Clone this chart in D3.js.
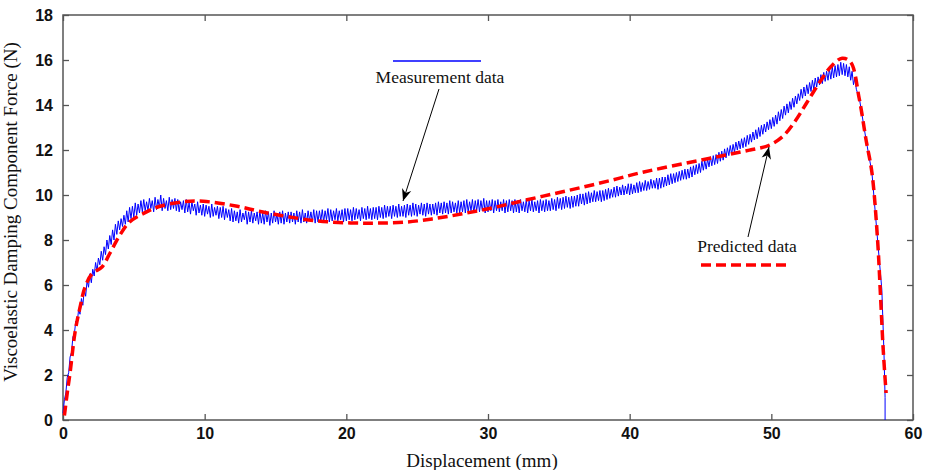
<!DOCTYPE html>
<html>
<head>
<meta charset="utf-8">
<script src="https://cdn.jsdelivr.net/npm/d3@7"></script>
<style>
  body { margin: 0; background: #fff; }
  .axis text { font-family: "Liberation Sans", Arial, sans-serif; font-weight: bold; font-size: 16px; fill: #111; }
  .axis line { stroke: #555; stroke-width: 1.3; }
  .axis path { display: none; }
  .label { font-family: "Liberation Serif", "Times New Roman", serif; fill: #111; }
</style>
</head>
<body>
<svg id="chart" width="930" height="470"></svg>
<script>
// x ticks / y ticks
var xTicks = [0, 10, 20, 30, 40, 50, 60];
var yTicks = [0, 2, 4, 6, 8, 10, 12, 14, 16, 18];

// predicted data [displacement mm, force N]
var predicted = [
  [0.1,0.2],[0.3,1.2],[0.5,2.1],[0.85,3.9],[1.2,5.0],[1.55,5.9],[2.05,6.5],[2.75,6.8],
  [3.3,7.4],[4.0,8.2],[4.7,8.8],[5.9,9.25],[6.85,9.5],[8.5,9.7],[9.9,9.72],[12.3,9.5],
  [13.7,9.3],[15.3,9.1],[17.9,8.85],[20.3,8.76],[22.2,8.75],[24.3,8.8],[26.4,8.97],
  [28.5,9.2],[30.6,9.47],[32.5,9.75],[34.6,10.05],[36.7,10.35],[38.8,10.67],[40.5,10.95],
  [42.3,11.2],[45.0,11.55],[47.0,11.8],[48.5,12.0],[49.8,12.2],[50.8,12.6],[51.7,13.3],
  [52.5,14.1],[53.4,15.0],[54.2,15.7],[55.0,16.08],[55.6,15.9],[56.2,14.3],[56.7,12.4],
  [57.1,11.0],[57.5,8.0],[57.7,5.6],[57.9,3.1],[58.1,1.2]
];

// measurement data, sampled every measStep mm from 0 (one row = 2 mm)
var measStep = 0.1;
var measForce = [
  0.3,0.9,1.2,1.9,2.1,2.8,3.0,3.7,3.8,4.4,4.3,4.9,4.7,5.4,5.1,5.8,5.5,6.2,5.9,6.5,
  6.1,6.7,6.4,7.0,6.6,7.2,6.9,7.5,7.1,7.7,7.35,8.0,7.6,8.2,7.8,8.45,8.0,8.7,8.25,8.85,
  8.45,8.95,8.6,9.1,8.7,9.3,8.8,9.45,8.95,9.5,9.0,9.65,9.1,9.6,9.2,9.75,9.25,9.8,9.3,9.7,
  9.3,9.85,9.4,9.75,9.25,9.9,9.35,9.8,9.45,10.0,9.3,9.85,9.4,9.75,9.3,9.9,9.35,9.8,9.4,9.85,
  9.3,9.8,9.25,9.7,9.35,9.75,9.2,9.8,9.25,9.65,9.15,9.7,9.3,9.6,9.1,9.7,9.2,9.55,9.1,9.6,
  9.05,9.55,9.15,9.5,9.0,9.6,9.05,9.45,9.1,9.5,8.95,9.45,9.0,9.5,8.9,9.4,9.0,9.35,8.85,9.4,
  8.8,9.3,8.85,9.25,8.75,9.35,8.8,9.2,8.9,9.3,8.7,9.25,8.8,9.3,8.75,9.2,8.85,9.25,8.7,9.3,
  8.75,9.2,8.7,9.3,8.8,9.25,8.65,9.2,8.75,9.3,8.8,9.15,8.7,9.25,8.75,9.3,8.7,9.2,8.8,9.25,
  8.75,9.25,8.8,9.2,8.7,9.3,8.8,9.25,8.75,9.35,8.8,9.2,8.75,9.3,8.85,9.25,8.8,9.35,8.75,9.3,
  8.8,9.3,8.85,9.35,8.8,9.3,8.9,9.4,8.8,9.35,8.85,9.3,8.9,9.4,8.85,9.3,8.9,9.35,8.8,9.4,
  8.85,9.4,8.9,9.35,8.85,9.45,8.9,9.4,8.95,9.35,8.85,9.45,8.95,9.4,8.9,9.5,8.95,9.4,8.9,9.45,
  8.95,9.45,8.9,9.5,9.0,9.45,8.95,9.55,9.0,9.5,9.05,9.5,8.95,9.55,9.05,9.5,9.0,9.6,9.05,9.5,
  9.05,9.55,9.0,9.6,9.1,9.55,9.05,9.65,9.1,9.6,9.05,9.55,9.15,9.65,9.1,9.6,9.05,9.65,9.15,9.6,
  9.1,9.6,9.15,9.65,9.1,9.7,9.2,9.65,9.15,9.7,9.2,9.65,9.15,9.75,9.2,9.7,9.25,9.65,9.2,9.75,
  9.2,9.7,9.25,9.75,9.2,9.8,9.25,9.7,9.3,9.8,9.2,9.75,9.3,9.8,9.25,9.75,9.3,9.85,9.2,9.75,
  9.25,9.75,9.3,9.8,9.2,9.75,9.3,9.8,9.25,9.7,9.3,9.8,9.2,9.75,9.25,9.8,9.3,9.75,9.2,9.8,
  9.25,9.75,9.2,9.8,9.3,9.7,9.25,9.8,9.2,9.75,9.3,9.8,9.25,9.7,9.3,9.75,9.2,9.8,9.3,9.75,
  9.25,9.8,9.3,9.75,9.3,9.85,9.35,9.8,9.3,9.9,9.4,9.85,9.35,9.9,9.4,9.95,9.45,9.9,9.4,9.95,
  9.45,9.95,9.5,10.0,9.5,10.05,9.6,10.05,9.55,10.1,9.6,10.15,9.65,10.1,9.7,10.2,9.7,10.15,9.75,10.2,
  9.7,10.2,9.75,10.25,9.8,10.3,9.85,10.25,9.9,10.35,9.9,10.4,9.95,10.35,10.0,10.45,10.0,10.4,10.05,10.5,
  10.0,10.5,10.05,10.45,10.1,10.55,10.1,10.6,10.15,10.55,10.2,10.65,10.2,10.6,10.25,10.7,10.3,10.65,10.3,10.75,
  10.25,10.75,10.3,10.8,10.35,10.8,10.4,10.9,10.45,10.95,10.5,10.95,10.55,11.0,10.6,11.05,10.65,11.1,10.7,11.15,
  10.7,11.15,10.75,11.25,10.8,11.3,10.9,11.35,10.95,11.4,11.0,11.5,11.1,11.55,11.15,11.6,11.25,11.7,11.3,11.75,
  11.35,11.8,11.4,11.9,11.5,11.95,11.55,12.05,11.65,12.1,11.75,12.2,11.8,12.25,11.9,12.35,12.0,12.4,12.05,12.5,
  12.1,12.55,12.15,12.65,12.25,12.7,12.35,12.8,12.45,12.9,12.5,13.0,12.6,13.1,12.7,13.15,12.8,13.25,12.9,13.35,
  12.95,13.45,13.05,13.55,13.15,13.7,13.3,13.8,13.4,13.95,13.55,14.05,13.65,14.15,13.8,14.3,13.9,14.4,14.05,14.5,
  14.2,14.7,14.3,14.8,14.4,14.9,14.5,15.0,14.6,15.1,14.7,15.2,14.8,15.25,14.9,15.35,14.95,15.45,15.05,15.5,
  15.1,15.6,15.15,15.7,15.2,15.75,15.25,15.8,15.3,15.9,15.35,15.85,15.3,15.8,15.25,15.7,15.1,15.5,14.9,15.2,
  14.7,14.5
];
// falling edge after the peak
var measTail = [[56.2,14.35],[56.7,12.4],[57.1,11.0],[57.5,8.0],[57.8,5.8],[57.95,3.0],[58.03,1.0],[58.03,0]];

var measurement = measForce.map(function(v, i){ return [i * measStep, v]; }).concat(measTail);

var width = 930, height = 470;
var margin = {left: 63, right: 17, top: 15, bottom: 50};

var svg = d3.select('#chart');
var x = d3.scaleLinear().domain([0, 60]).range([margin.left, width - margin.right]);
var y = d3.scaleLinear().domain([0, 18]).range([height - margin.bottom, margin.top]);

// axes on all four sides, ticks pointing in
svg.append('g').attr('class','axis')
  .attr('transform','translate(0,'+y(0)+')')
  .call(d3.axisBottom(x).tickValues(xTicks).tickSizeInner(-6).tickSizeOuter(0).tickPadding(8));
svg.append('g').attr('class','axis')
  .attr('transform','translate('+x(0)+',0)')
  .call(d3.axisLeft(y).tickValues(yTicks).tickSizeInner(-6).tickSizeOuter(0).tickPadding(10));
svg.append('g').attr('class','axis')
  .attr('transform','translate(0,'+y(18)+')')
  .call(d3.axisTop(x).tickValues(xTicks).tickSizeInner(-6).tickSizeOuter(0).tickFormat(''));
svg.append('g').attr('class','axis')
  .attr('transform','translate('+x(60)+',0)')
  .call(d3.axisRight(y).tickValues(yTicks).tickSizeInner(-6).tickSizeOuter(0).tickFormat(''));

svg.append('rect')
  .attr('x', x(0)).attr('y', y(18))
  .attr('width', x(60) - x(0)).attr('height', y(0) - y(18))
  .attr('fill','none').attr('stroke','#555').attr('stroke-width',1.5);

var line = d3.line()
  .x(function(d){ return x(d[0]); })
  .y(function(d){ return y(d[1]); });

svg.append('path')
  .datum(measurement)
  .attr('d', line)
  .attr('fill','none')
  .attr('stroke','#0000ff')
  .attr('stroke-width',1);

svg.append('path')
  .datum(predicted)
  .attr('d', line.curve(d3.curveCatmullRom))
  .attr('fill','none')
  .attr('stroke','#ff0000')
  .attr('stroke-width',3.5)
  .attr('stroke-dasharray','10,5');

// axis labels
svg.append('text').attr('class','label')
  .attr('x', 482).attr('y', 467)
  .attr('text-anchor','middle')
  .style('font-size','19px')
  .text('Displacement (mm)');
svg.append('text').attr('class','label')
  .attr('transform','translate(17,212) rotate(-90)')
  .attr('text-anchor','middle')
  .style('font-size','19px')
  .text('Viscoelastic Damping Component Force (N)');

// annotations
var defs = svg.append('defs');
defs.append('marker')
  .attr('id','arrow')
  .attr('viewBox','0 0 10 10')
  .attr('refX',10).attr('refY',5)
  .attr('markerWidth',12).attr('markerHeight',12)
  .attr('markerUnits','userSpaceOnUse')
  .attr('orient','auto')
  .append('path')
  .attr('d','M0,1 L10,5 L0,9 L3,5 Z')
  .attr('fill','#000');

svg.append('line')
  .attr('x1', 393).attr('x2', 481).attr('y1', 61).attr('y2', 61)
  .attr('stroke','#0000ff').attr('stroke-width',1.5);
svg.append('text').attr('class','label')
  .attr('x', 440).attr('y', 83)
  .attr('text-anchor','middle')
  .style('font-size','17.5px')
  .text('Measurement data');
svg.append('line')
  .attr('x1', 439).attr('y1', 89).attr('x2', 403).attr('y2', 201)
  .attr('stroke','#000').attr('stroke-width',1)
  .attr('marker-end','url(#arrow)');

svg.append('text').attr('class','label')
  .attr('x', 747).attr('y', 252)
  .attr('text-anchor','middle')
  .style('font-size','17.5px')
  .text('Predicted data');
svg.append('line')
  .attr('x1', 701).attr('x2', 787).attr('y1', 265).attr('y2', 265)
  .attr('stroke','#ff0000').attr('stroke-width',3.5)
  .attr('stroke-dasharray','10,5');
svg.append('line')
  .attr('x1', 748).attr('y1', 237).attr('x2', 769).attr('y2', 147)
  .attr('stroke','#000').attr('stroke-width',1)
  .attr('marker-end','url(#arrow)');
</script>
</body>
</html>
